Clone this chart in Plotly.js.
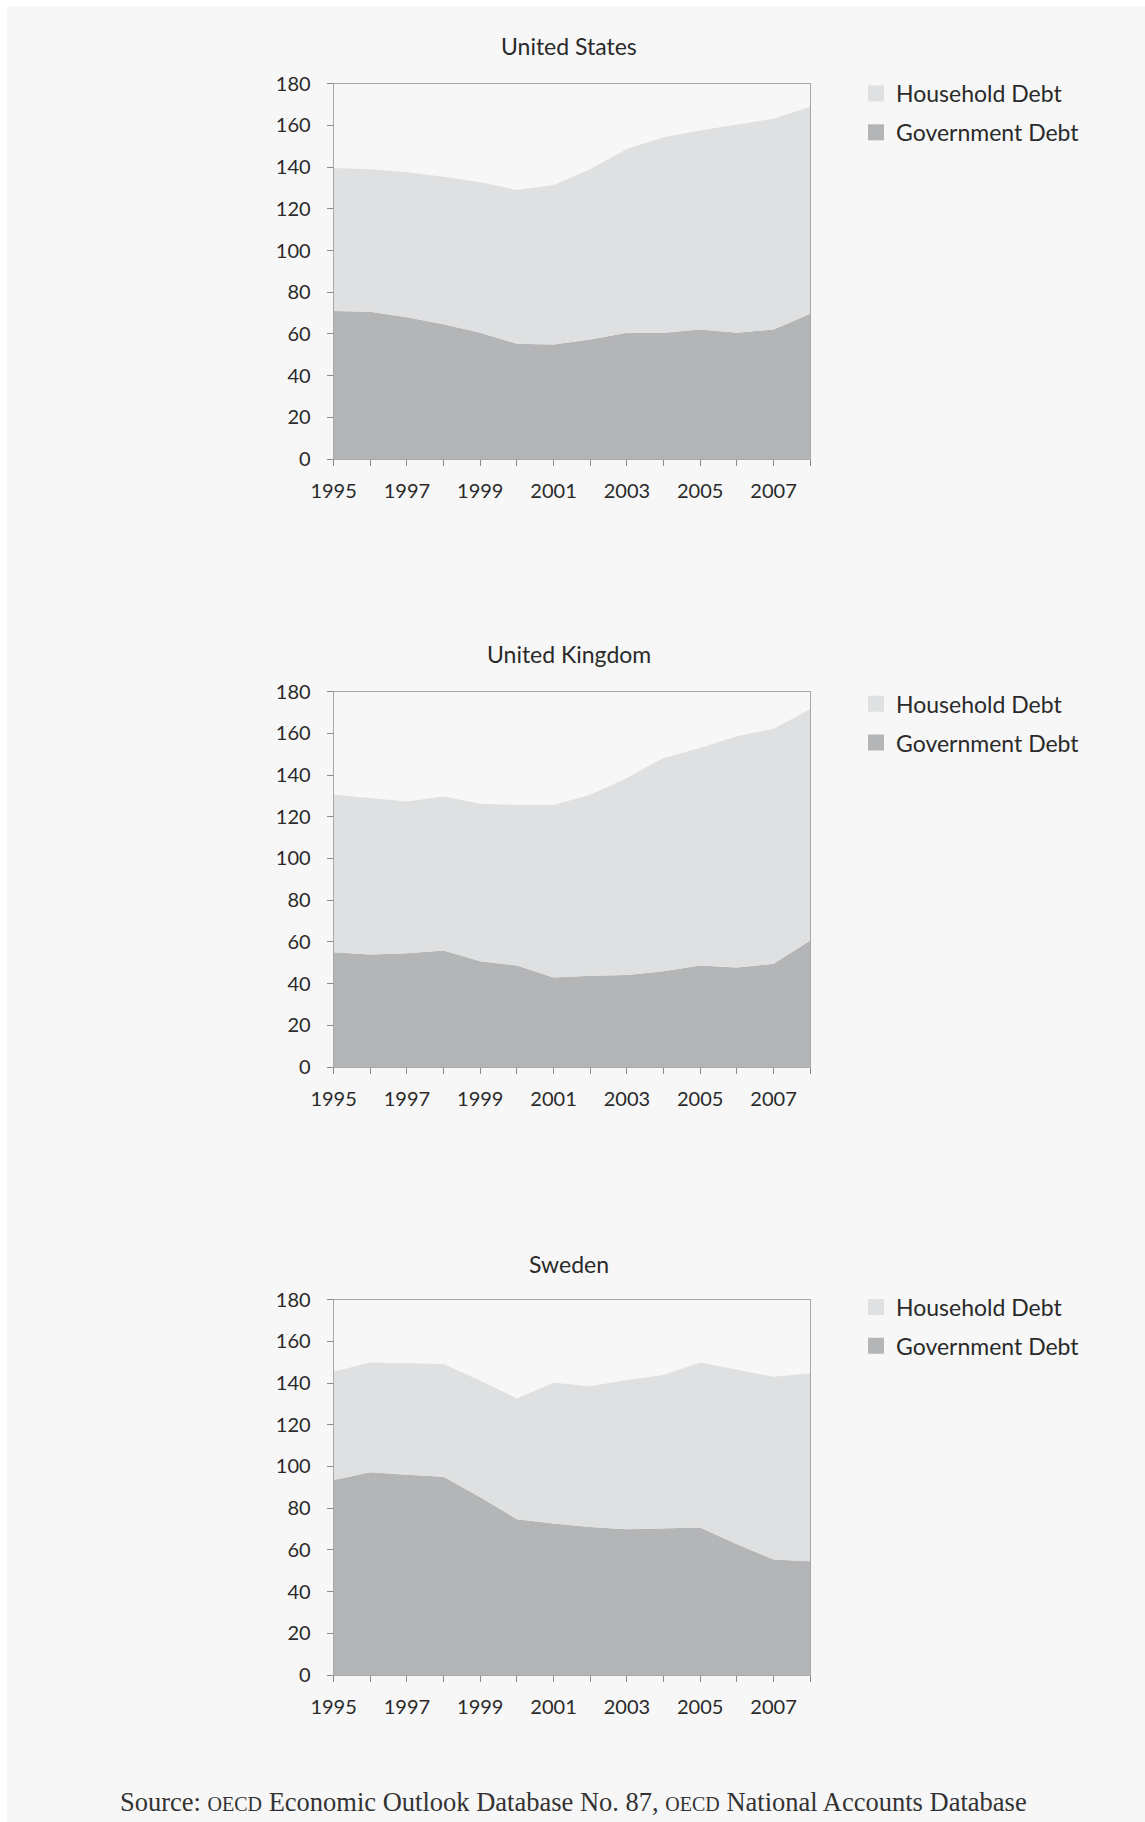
<!DOCTYPE html>
<html>
<head>
<meta charset="utf-8">
<script src="https://cdn.plot.ly/plotly-3.0.1.min.js"></script>
<style>
html,body{margin:0;padding:0;background:#ffffff;}
#chart{width:1145px;height:1822px;}
</style>
</head>
<body>
<div id="chart"></div>
<script>
// ---- data (percent of GDP) ----
const years = [1995, 1996, 1997, 1998, 1999, 2000, 2001, 2002, 2003, 2004, 2005, 2006, 2007, 2008];
const xTickYears = [1995, 1997, 1999, 2001, 2003, 2005, 2007];
const countries = ["United States", "United Kingdom", "Sweden"];
const seriesNames = ["Household Debt", "Government Debt"];

const usGov   = [71.0, 70.7, 68.0, 64.6, 60.6, 55.3, 55.0, 57.4, 60.6, 60.6, 62.2, 60.6, 62.2, 69.7];
const usHouse = [68.6, 68.3, 69.5, 70.8, 72.1, 73.7, 76.4, 81.6, 88.1, 93.7, 95.4, 99.8, 101.0, 99.3];
const ukGov   = [55.1, 54.0, 54.6, 55.9, 50.7, 48.7, 43.0, 43.8, 44.2, 45.9, 48.7, 47.8, 49.5, 60.7];
const ukHouse = [75.4, 74.9, 72.7, 73.8, 75.5, 77.0, 82.7, 86.7, 94.4, 102.3, 104.3, 110.8, 112.7, 110.8];
const seGov   = [93.5, 97.2, 96.0, 95.1, 85.2, 74.7, 72.6, 71.0, 69.9, 70.4, 70.7, 62.7, 55.4, 54.6];
const seHouse = [51.9, 52.6, 53.5, 54.0, 55.9, 57.9, 67.5, 67.5, 71.5, 73.4, 79.1, 83.6, 87.6, 90.0];

const sourceText = 'Source: <span style="font-size:20px">OECD</span> Economic Outlook Database No. 87, <span style="font-size:20px">OECD</span> National Accounts Database';

// ---- styling ----
const W = 1145, H = 1822;
const GOV_COLOR = '#b4b5b7';
const HOUSE_COLOR = '#dfe0e1';
const FONT = 'Lato, "Open Sans", sans-serif';
const TEXT_COLOR = '#2a2a2a';

const govs = [usGov, ukGov, seGov];
const houses = [usHouse, ukHouse, seHouse];

// pixel layout of each panel (top/bottom of plot area)
const panels = [
  {top: 83.7, bottom: 459.1, title: 46.5, legendTop: 72},
  {top: 691.6, bottom: 1067.1, title: 654.4, legendTop: 682.2},
  {top: 1299.6, bottom: 1675.0, title: 1263.5, legendTop: 1285.5}
];
const plotLeft = 333.6, plotRight = 810.2;

const py = p => 1 - p / H;
const px = p => p / W;

const traces = [];
const layout = {
  width: W, height: H,
  margin: {l: 0, r: 0, t: 0, b: 0},
  paper_bgcolor: '#ffffff',
  plot_bgcolor: '#f8f8f8',
  font: {family: FONT, color: TEXT_COLOR, size: 20},
  showlegend: true,
  annotations: [],
  shapes: [{
    type: 'rect', xref: 'paper', yref: 'paper', layer: 'below',
    x0: px(7), x1: 1, y0: 0, y1: py(6),
    fillcolor: '#f7f7f7', line: {width: 0}
  }]
};

countries.forEach((name, i) => {
  const n = i === 0 ? '' : String(i + 1);
  const xa = 'x' + n, ya = 'y' + n;
  const lg = 'legend' + n;
  // stacked areas
  traces.push({
    type: 'scatter', mode: 'lines', x: years, y: govs[i], xaxis: xa, yaxis: ya,
    stackgroup: 'sg' + i, fillcolor: GOV_COLOR, line: {width: 0, color: GOV_COLOR},
    name: seriesNames[1], showlegend: false, hoverinfo: 'skip'
  });
  traces.push({
    type: 'scatter', mode: 'lines', x: years, y: houses[i], xaxis: xa, yaxis: ya,
    stackgroup: 'sg' + i, fillcolor: HOUSE_COLOR, line: {width: 0, color: HOUSE_COLOR},
    name: seriesNames[0], showlegend: false, hoverinfo: 'skip'
  });
  // legend swatches
  [[seriesNames[0], HOUSE_COLOR], [seriesNames[1], GOV_COLOR]].forEach(([nm, col], k) => {
    traces.push({
      type: 'scatter', mode: 'markers', x: [null], y: [null], xaxis: xa, yaxis: ya,
      name: nm, legend: lg, legendgroup: 'g' + i + '_' + k,
      marker: {symbol: 'square', size: 16, color: col, line: {width: 0}}
    });
  });

  const p = panels[i];
  layout['xaxis' + n] = {
    domain: [px(plotLeft), px(plotRight)],
    anchor: ya,
    range: [1995, 2008],
    tickmode: 'array', tickvals: xTickYears, ticktext: xTickYears.map(String),
    ticks: 'outside', ticklen: 6, tickcolor: '#8a8a8a', tickwidth: 1,
    minor: {tickmode: 'array', tickvals: years, ticks: 'outside', ticklen: 6, tickcolor: '#8a8a8a', tickwidth: 1},
    ticklabelstandoff: 8,
    showline: true, mirror: true, linecolor: '#a8a8a8', linewidth: 1,
    showgrid: false, zeroline: false,
    tickfont: {family: FONT, size: 20, color: TEXT_COLOR},
    fixedrange: true
  };
  layout['yaxis' + n] = {
    domain: [py(p.bottom), py(p.top)],
    anchor: xa,
    range: [0, 180], dtick: 20, tick0: 0,
    ticks: 'outside', ticklen: 6, tickcolor: '#8a8a8a', tickwidth: 1,
    ticklabelstandoff: 12,
    showline: true, mirror: true, linecolor: '#a8a8a8', linewidth: 1,
    showgrid: false, zeroline: false,
    tickfont: {family: FONT, size: 20, color: TEXT_COLOR},
    fixedrange: true
  };
  layout[lg] = {
    x: px(856), xanchor: 'left',
    y: py(p.legendTop), yanchor: 'top',
    bgcolor: 'rgba(0,0,0,0)', borderwidth: 0,
    traceorder: 'grouped', tracegroupgap: 6,
    font: {family: FONT, size: 23, color: TEXT_COLOR},
    itemclick: false, itemdoubleclick: false
  };
  layout.annotations.push({
    text: name, xref: 'paper', yref: 'paper',
    x: px(569), y: py(p.title), xanchor: 'center', yanchor: 'middle',
    showarrow: false, font: {family: FONT, size: 23, color: TEXT_COLOR}
  });
});

layout.annotations.push({
  text: sourceText, xref: 'paper', yref: 'paper',
  x: px(573), y: py(1801.7), xanchor: 'center', yanchor: 'middle',
  showarrow: false,
  font: {family: '"Liberation Serif", "DejaVu Serif", serif', size: 26.5, color: '#333333'}
});

Plotly.newPlot('chart', traces, layout, {displayModeBar: false, staticPlot: true});
</script>
</body>
</html>
